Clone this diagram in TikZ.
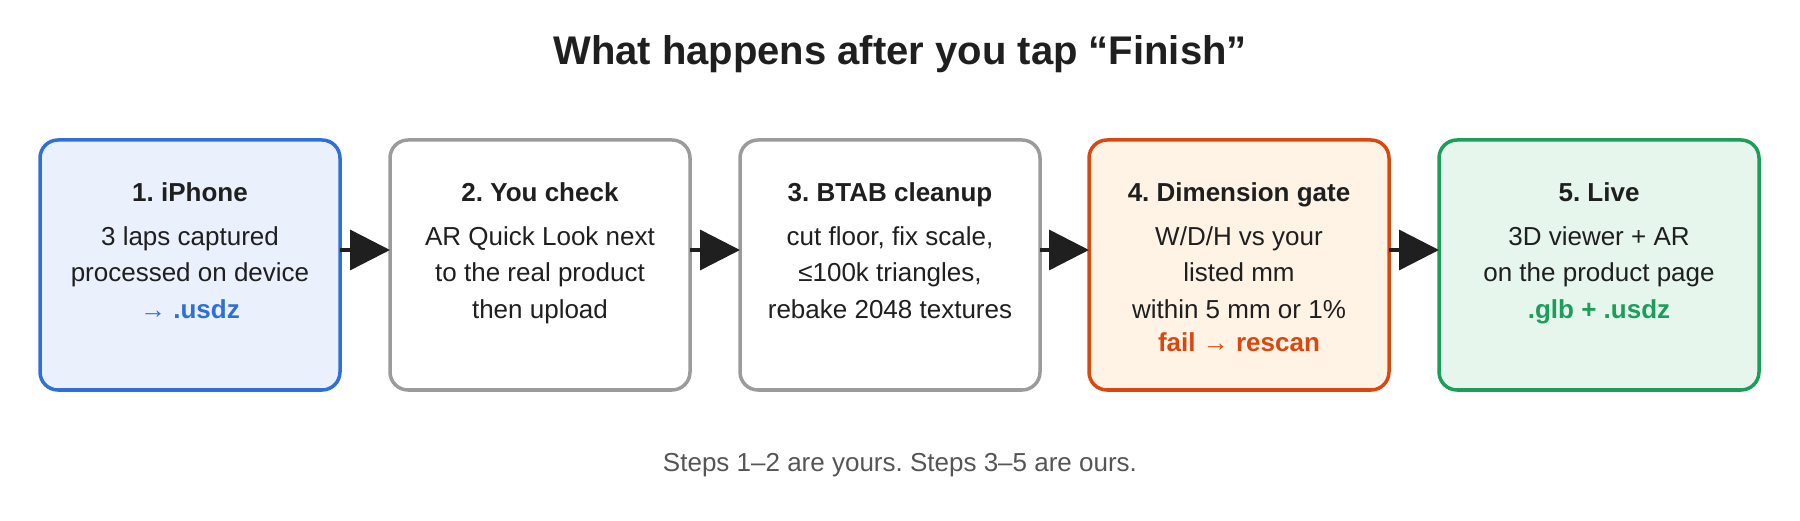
\documentclass[tikz,border=0pt]{standalone}
\usepackage{fontspec}
\setmainfont{Liberation Sans}
\frenchspacing
\usetikzlibrary{arrows.meta, positioning}
\definecolor{inkdark}{HTML}{1F1F1F}
\definecolor{inkgray}{HTML}{555555}
\definecolor{phoneblue}{HTML}{2F6FD8}
\definecolor{phonefill}{HTML}{EAF1FC}
\definecolor{checkgray}{HTML}{9B9B9B}
\definecolor{gateorange}{HTML}{D9480F}
\definecolor{gatefill}{HTML}{FFF3E6}
\definecolor{livegreen}{HTML}{1A9E5A}
\definecolor{livefill}{HTML}{E6F6EC}
\tikzset{
  stepbox/.style={
    draw, rectangle, rounded corners=18pt, line width=3.5pt,
    minimum width=300pt, minimum height=250pt,
    inner sep=0pt, outer sep=0pt
  },
  steptext/.style={
    anchor=north, align=center, inner sep=0pt, text=inkdark,
    font=\fontsize{26}{36.5}\selectfont
  },
  arrow/.style={
    -{Triangle[length=40pt, width=40pt]}, line width=3.5pt, draw=inkdark
  }
}
\newcommand{\stephead}[1]{\rule{0pt}{20pt}\textbf{#1}\\[7.5pt]}

\begin{document}
\begin{tikzpicture}[x=1pt, y=1pt]
    \useasboundingbox (0,0) rectangle (1800,520);

    \node[anchor=base, text=inkdark, font=\fontsize{40}{48}\selectfont\bfseries] (title) at (900,455) {What happens after you tap “Finish”};

    % the five steps
    \node[stepbox, draw=phoneblue, fill=phonefill] (iphone) at (190,255) {};
    \node[stepbox, draw=checkgray, fill=white, right=50pt of iphone] (check) {};
    \node[stepbox, draw=checkgray, fill=white, right=50pt of check] (cleanup) {};
    \node[stepbox, draw=gateorange, fill=gatefill, right=49pt of cleanup] (gate) {};
    \node[stepbox, draw=livegreen, fill=livefill, minimum width=320pt, right=50pt of gate] (live) {};

    \node[steptext] (iphonetext) at ([yshift=-41pt]iphone.north) {\stephead{1. iPhone}3 laps captured\\processed on device\\\textcolor{phoneblue}{\textbf{→ .usdz}}};
    \node[steptext] (checktext) at ([yshift=-41pt]check.north) {\stephead{2. You check}AR Quick Look next\\to the real product\\then upload};
    \node[steptext] (cleanuptext) at ([yshift=-41pt]cleanup.north) {\stephead{3. BTAB cleanup}cut floor, fix scale,\\≤100k triangles,\\rebake 2048 textures};
    \node[steptext] (gatetext) at ([yshift=-41pt]gate.north) {\stephead{4. Dimension gate}W/D/H vs your\\listed mm\\within 5 mm or 1\%\\[-3pt]\textcolor{gateorange}{\textbf{fail → rescan}}};
    \node[steptext] (livetext) at ([yshift=-41pt]live.north) {\stephead{5. Live}3D viewer + AR\\on the product page\\\textcolor{livegreen}{\textbf{.glb + .usdz}}};

    \draw[arrow] ([yshift=15pt]iphone.east) -- ([yshift=15pt]check.west);
    \draw[arrow] ([yshift=15pt]check.east) -- ([yshift=15pt]cleanup.west);
    \draw[arrow] ([yshift=15pt]cleanup.east) -- ([yshift=15pt]gate.west);
    \draw[arrow] ([yshift=15pt]gate.east) -- ([yshift=15pt]live.west);

    \node[anchor=base, text=inkgray, font=\fontsize{26}{32}\selectfont] (footer) at (900,49) {Steps 1–2 are yours. Steps 3–5 are ours.};
  \end{tikzpicture}
\end{document}
